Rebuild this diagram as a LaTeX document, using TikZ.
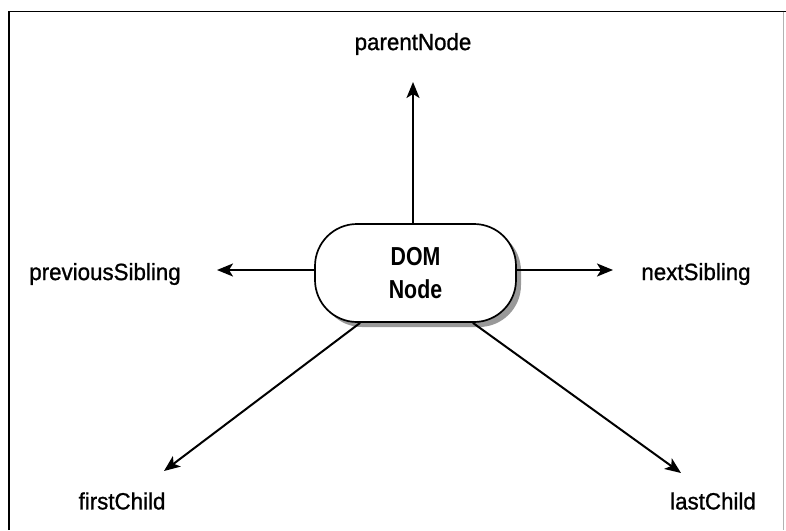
\documentclass[tikz,border=0pt]{standalone}
\usepackage{fontspec}
\setmainfont{Liberation Sans}
\newfontfamily\lblfont[FakeBold=1,FakeStretch=0.95]{Liberation Sans}
\newfontfamily\domfont[FakeStretch=0.82]{Liberation Sans}
\usetikzlibrary{arrows.meta,shadows}
\begin{document}
\begin{tikzpicture}[x=1pt,y=-1pt,
  lbl/.style={font=\lblfont\fontsize{23.5}{26}\selectfont, inner sep=0pt},
  link/.style={line width=2pt, -{Stealth[length=16pt,width=13pt,inset=4pt]}},
  domnode/.style={draw, line width=1.7pt, fill=white, rounded corners=42pt,
    minimum width=201pt, minimum height=98pt, align=center,
    font=\domfont\fontsize{26}{33}\selectfont\bfseries,
    drop shadow={shadow xshift=5pt, shadow yshift=-5pt, fill=black!40, opacity=1}}]
  \useasboundingbox (0,0) rectangle (786,530);
  % page frame
  \draw[line width=1.6pt] (9,530) -- (9,11.5) -- (786,11.5);
  \draw[black!30, line width=0.8pt] (783,11.5) -- (783,530);

  % central node
  \node[domnode] (dom) at (415.5,273) {DOM\\Node};

  % labels
  \node[lbl] (parent) at (413,44) {parentNode};
  \node[lbl] (prev) at (105,274) {previousSibling};
  \node[lbl] (next) at (696,274) {nextSibling};
  \node[lbl] (first) at (122,501) {firstChild};
  \node[lbl] (last) at (713,501) {lastChild};

  % arrow tips
  \coordinate (tparent) at (413,82);
  \coordinate (tprev) at (217,270);
  \coordinate (tnext) at (613,270);
  \coordinate (tfirst) at (164,471);
  \coordinate (tlast) at (681,473);

  % connectors
  \draw[link] (dom.north -| tparent) -- (tparent);
  \draw[link] (dom.west |- tprev) -- (tprev);
  \draw[link] (dom.east |- tnext) -- (tnext);
  \draw[link] (dom.-138) -- (tfirst);
  \draw[link] (dom.-41) -- (tlast);
\end{tikzpicture}
\end{document}
